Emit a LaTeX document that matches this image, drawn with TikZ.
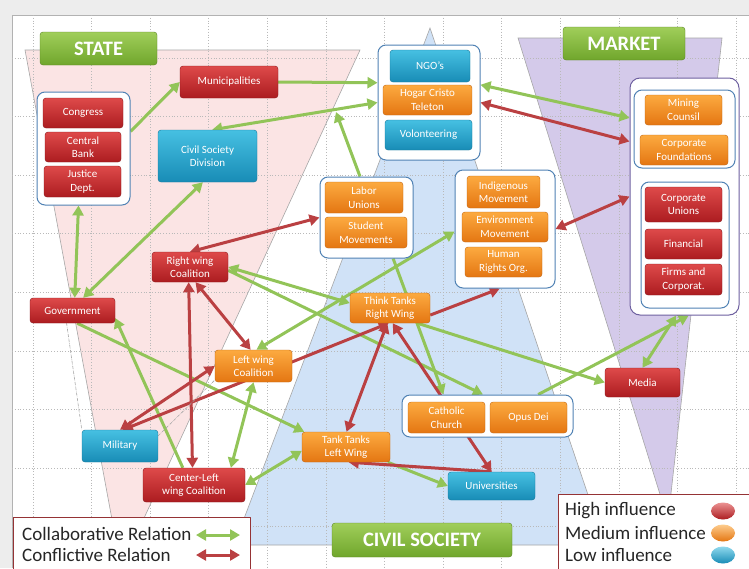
\documentclass[tikz,border=0pt]{standalone}
\usepackage{fontspec}
\setmainfont{Carlito}
\usetikzlibrary{arrows.meta,shapes.geometric}
\definecolor{HiTop}{RGB}{222,74,74}
\definecolor{HiBot}{RGB}{172,28,32}
\definecolor{MedTop}{RGB}{252,170,64}
\definecolor{MedBot}{RGB}{228,118,18}
\definecolor{LowTop}{RGB}{70,192,226}
\definecolor{LowBot}{RGB}{24,140,182}
\definecolor{BanTop}{RGB}{160,206,90}
\definecolor{BanBot}{RGB}{112,166,44}
\definecolor{ColGreen}{RGB}{146,196,88}
\definecolor{ConRed}{RGB}{186,64,66}
\definecolor{StatePink}{RGB}{251,228,228}
\definecolor{CivBlue}{RGB}{208,226,247}
\definecolor{MktLilac}{RGB}{212,202,234}
\definecolor{GrpLine}{RGB}{80,130,180}
\definecolor{MktLine}{RGB}{110,96,160}
\pgfdeclarelayer{bg}
\pgfdeclarelayer{edges}
\pgfsetlayers{bg,edges,main}
\tikzset{
  box/.style={rounded corners=3pt, inner sep=0pt, align=center, text=white, font=\fontsize{11}{13.5}\selectfont},
  wh/.style 2 args={minimum width=#1pt, minimum height=#2pt},
  hi/.style={box, top color=HiTop, bottom color=HiBot, draw=HiBot!80!black},
  med/.style={box, top color=MedTop, bottom color=MedBot, draw=MedBot!85!black},
  low/.style={box, top color=LowTop, bottom color=LowBot, draw=LowBot!85!black},
  banner/.style={rounded corners=3pt, inner sep=0pt, top color=BanTop, bottom color=BanBot, draw=BanBot!80!black, text=white, font=\fontsize{20.5}{22}\selectfont\bfseries},
  grp/.style={draw=GrpLine, line width=1pt, fill=white, rounded corners=8pt, inner sep=0pt},
  collab/.style={draw=ColGreen, line width=3pt},
  confl/.style={draw=ConRed, line width=3pt},
  faint/.style={draw=gray!70, densely dash dot, line width=0.6pt},
  gridline/.style={draw=gray!55, dotted, line width=0.8pt},
  zone/.style={draw=gray!70, line width=0.6pt},
  legtxt/.style={anchor=west, font=\fontsize{19}{21}\selectfont, text=black!85, inner sep=0pt},
  legball/.style={ellipse, minimum width=24pt, minimum height=17pt, inner sep=0pt},
}
\begin{document}
\begin{tikzpicture}[x=1pt, y=-1pt, >={Triangle[length=10pt,width=11pt]}, line join=round]
\useasboundingbox (0,0) rectangle (749,568);
\begin{pgfonlayer}{bg}
\fill[gray!14] (0,0) rectangle (749,568);
\fill[white] (12,15) rectangle (749,568);
\draw[gray!60] (12,568) -- (12,15) -- (749,15);
\fill[StatePink, zone] (25,50) -- (360,50) -- (121,568) -- cycle;
\fill[MktLilac, zone] (518,38) -- (722,38) -- (668,520) -- cycle;
\fill[CivBlue, zone] (430,28) -- (605,545) -- (234,545) -- cycle;
\foreach \i in {0,...,12} \draw[gridline] ({33+58.6*\i},15) -- ({33+58.6*\i},568);
\foreach \j in {0,...,8} \draw[gridline] (12,{58+58.6*\j}) -- (749,{58+58.6*\j});
\end{pgfonlayer}

\node[banner, wh={117}{33}] (state) at (98.5,48.5) {STATE};
\node[banner, wh={122}{33}] (market) at (624,43.5) {MARKET};
\node[banner, wh={180}{34}] (civil) at (422,540) {CIVIL SOCIETY};

\node[grp, wh={93}{113}] (congrp) at (83.5,148.5) {};
\node[hi, wh={80}{30}] (congress) at (83,113) {Congress};
\node[hi, wh={76}{30}] (bank) at (83,147) {Central\\Bank};
\node[hi, wh={77}{31}] (justice) at (82.5,181.5) {Justice\\Dept.};
\node[hi, wh={98}{32}] (muni) at (229,82) {Municipalities};
\node[low, wh={99}{52}] (csd) at (207.5,156) {Civil Society\\Division};

\node[grp, wh={102}{115}] (ngogrp) at (429,102.5) {};
\node[low, wh={80}{32}] (ngos) at (430,66) {NGO's};
\node[med, wh={89}{30}] (hogar) at (427.5,100) {Hogar Cristo\\Teleton};
\node[low, wh={87}{30}] (volont) at (428.5,135) {Volonteering};

\node[grp, draw=MktLine, rounded corners=10pt, wh={109}{237}] (mktgrp) at (684.5,196.5) {};
\node[grp, wh={101}{78}] (mktup) at (684.5,129) {};
\node[med, wh={77}{30}] (mining) at (683.5,110) {Mining\\Counsil};
\node[med, wh={88}{30}] (corpfound) at (684,150) {Corporate\\Foundations};
\node[grp, wh={88}{126}] (mktdown) at (685,245) {};
\node[hi, wh={77}{35}] (corpunions) at (683.5,204.5) {Corporate\\Unions};
\node[hi, wh={77}{30}] (financial) at (683.5,244) {Financial};
\node[hi, wh={77}{31}] (firms) at (683.5,279.5) {Firms and\\Corporat.};

\node[grp, wh={93}{81}] (labgrp) at (366.5,217.5) {};
\node[med, wh={78}{31}] (labor) at (364,197.5) {Labor\\Unions};
\node[med, wh={82}{31}] (student) at (366,232.5) {Student\\Movements};

\node[grp, wh={100}{118}] (indgrp) at (505,229) {};
\node[med, wh={73}{32}] (indig) at (503.5,192) {Indigenous\\Movement};
\node[med, wh={86}{30}] (environ) at (505,227) {Environment\\Movement};
\node[med, wh={77}{30}] (human) at (503.5,262) {Human\\Rights Org.};

\node[hi, wh={76}{30}] (rwc) at (190,267) {Right wing\\Coalition};
\node[hi, wh={85}{25}] (gov) at (72.5,310.5) {Government};
\node[med, wh={80}{30}] (ttrw) at (390,308) {Think Tanks\\Right Wing};
\node[med, wh={77}{32}] (lwc) at (253.5,366) {Left wing\\Coalition};
\node[hi, wh={75}{29}] (media) at (642.5,382.5) {Media};
\node[low, wh={76}{32}] (military) at (120,446) {Military};
\node[hi, wh={102}{34}] (clwc) at (194,485) {Center-Left\\wing Coalition};

\node[grp, wh={171}{42}] (cathgrp) at (487.5,416) {};
\node[med, wh={77}{31}] (catholic) at (446.5,417.5) {Catholic\\Church};
\node[med, wh={77}{31}] (opus) at (528.5,417.5) {Opus Dei};
\node[med, wh={88}{30}] (ttlw) at (346,447) {Tank Tanks\\Left Wing};
\node[low, wh={87}{28}] (univ) at (491.5,486) {Universities};

\coordinate (labtip) at (336,112);

\begin{pgfonlayer}{edges}
\draw[collab,->] (congrp.20) -- (muni.west);
\draw[collab,->] (muni.east) -- (ngogrp.159);
\draw[collab,<->] (ngogrp.19) -- (mktgrp.125);
\draw[collab,<->] (csd.80) -- (ngogrp.west);
\draw[collab,<->] (gov.50) -- (csd.260);
\draw[collab,<->] (gov.80) -- (congrp.265);
\draw[collab,->] (labgrp.99) -- (labtip);
\draw[collab,<->] (rwc.east) -- (ttrw.173);
\draw[collab,->] (rwc.-5) -- (cathgrp.102);
\draw[collab,<->] (lwc.80) -- (indgrp.183);
\draw[collab,->] (labgrp.-57) -- (cathgrp.154);
\draw[collab,->] (ttrw.-29) -- (media.west);
\draw[collab,->] (cathgrp.23) -- (mktgrp.-88);
\draw[collab,<->] (media.north) -- (mktgrp.-94);
\draw[collab,->] (gov.-70) -- (ttlw.160);
\draw[collab,->] (clwc.123) -- (gov.-10);
\draw[collab,<->] (lwc.south) -- (clwc.25);
\draw[collab,<->] (clwc.east) -- (ttlw.185);
\draw[collab,->] (ttlw.-20) -- (univ.west);

\draw[confl,<->] (ngogrp.east) -- (mktgrp.135);
\draw[confl,<->] (indgrp.east) -- (mktgrp.west);
\draw[confl,<->] (rwc.north) -- (labgrp.west);
\draw[confl,<->] (rwc.-70) -- (lwc.100);
\draw[confl,<->] (rwc.-95) -- (clwc.95);
\draw[confl,<->] (military.north) -- (lwc.west);
\draw[confl,<->] (military.80) -- (ttrw.-95);
\draw[confl,->] (ttrw.-10) -- (indgrp.-95);
\draw[confl,<->] (ttrw.-100) -- (ttlw.88);
\draw[confl,<->] (ttrw.-80) -- (univ.north);
\draw[confl,->] (univ.north) -- (ttlw.-80);

\draw[faint] (gov.-115) -- (military.north west);
\draw[faint] (military.15) -- (lwc.200);
\end{pgfonlayer}

\node[draw=ConRed!80!black, fill=white, line width=0.8pt, inner sep=0pt, minimum width=237pt, minimum height=54pt] (legrel) at (131.5,544) {};
\node[legtxt] (collabtxt) at (22,534) {Collaborative Relation};
\node[legtxt] (confltxt) at (22,555) {Conflictive Relation};
\coordinate (ca) at (196,535);
\coordinate (cb) at (240,535);
\coordinate (ra) at (196,555);
\coordinate (rb) at (240,555);
\draw[collab,<->] (ca) -- (cb);
\draw[confl,<->] (ra) -- (rb);

\node[draw=ConRed!80!black, fill=white, line width=0.8pt, inner sep=0pt, minimum width=195pt, minimum height=78pt] (leginf) at (656,533) {};
\node[legtxt] (hitxt) at (565,511) {High influence};
\node[legtxt] (medtxt) at (565,533) {Medium influence};
\node[legtxt] (lowtxt) at (565,555) {Low influence};
\node[legball, top color=HiTop!60!white, bottom color=HiBot] (hiball) at (723,511) {};
\node[legball, top color=MedTop!60!white, bottom color=MedBot] (medball) at (723,533) {};
\node[legball, top color=LowTop!60!white, bottom color=LowBot] (lowball) at (723,555) {};
\end{tikzpicture}
\end{document}
